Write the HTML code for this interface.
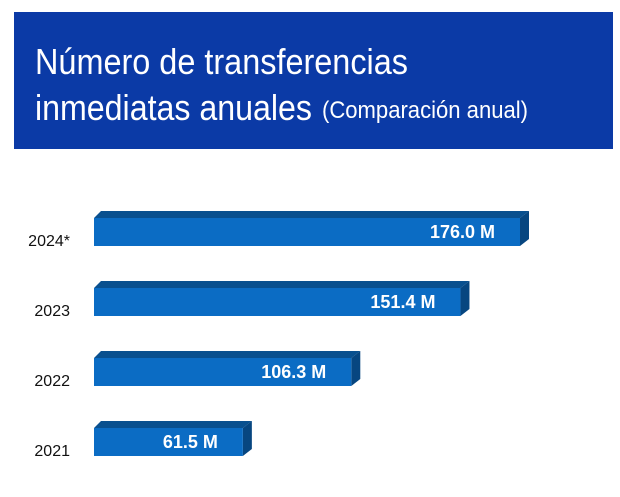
<!DOCTYPE html>
<html><head><meta charset="utf-8"><style>
body{margin:0;background:#fff;width:620px;height:497px;overflow:hidden}
svg{display:block}
</style></head><body>
<svg width="620" height="497">
<rect x="14" y="12" width="599" height="137" fill="#0b3aa6"/>
<text x="35" y="74" font-family="Liberation Sans, sans-serif" font-size="36" fill="#fff" textLength="373" lengthAdjust="spacingAndGlyphs">Número de transferencias</text>
<text x="35" y="120" font-family="Liberation Sans, sans-serif" font-size="36" fill="#fff" textLength="277" lengthAdjust="spacingAndGlyphs">inmediatas anuales</text>
<text x="322" y="118" font-family="Liberation Sans, sans-serif" font-size="24" fill="#fff" textLength="206" lengthAdjust="spacingAndGlyphs">(Comparación anual)</text>
<g id="bars"></g>
</svg>
<script>
const categories = ["2024*","2023","2022","2021"];
const values = [176.0,151.4,106.3,61.5];
const valueLabels = ["176.0 M","151.4 M","106.3 M","61.5 M"];
const x0=94, scale=426/176, yTop=211, step=70, h=28, d=7, sd=9;
const xs=v=>x0+v*scale;
const g=document.getElementById('bars');
const ns='http://www.w3.org/2000/svg';
function mk(t,a){const e=document.createElementNS(ns,t);for(const k in a)e.setAttribute(k,a[k]);g.appendChild(e);return e;}
categories.forEach((c,i)=>{
  const xe=xs(values[i]); const yt=yTop+i*step; const yf=yt+d;
  const top=mk('polygon',{points:`${x0},${yf} ${x0+d},${yt} ${xe+sd},${yt} ${xe},${yf}`,fill:'#09508f'});
  
  
  const side=mk('polygon',{points:`${xe},${yf} ${xe+sd},${yt} ${xe+sd},${yt+h} ${xe},${yf+h}`,fill:'#074680'});
  
  
  const r=mk('rect',{x:x0,y:yf,width:xe-x0,height:h,fill:'#0b6cc4'});
  
  
  const vt=mk('text',{x:xe-25,y:yf+20,'text-anchor':'end','font-family':'Liberation Sans, sans-serif','font-weight':'bold','font-size':'18',fill:'#fff'});
  vt.textContent=valueLabels[i];
  
  
  const ct=mk('text',{x:70,y:yf+28,'text-anchor':'end','font-family':'Liberation Sans, sans-serif','font-size':'16',fill:'#111'});
  ct.textContent=c;
  
  
});
</script>
</body></html>
